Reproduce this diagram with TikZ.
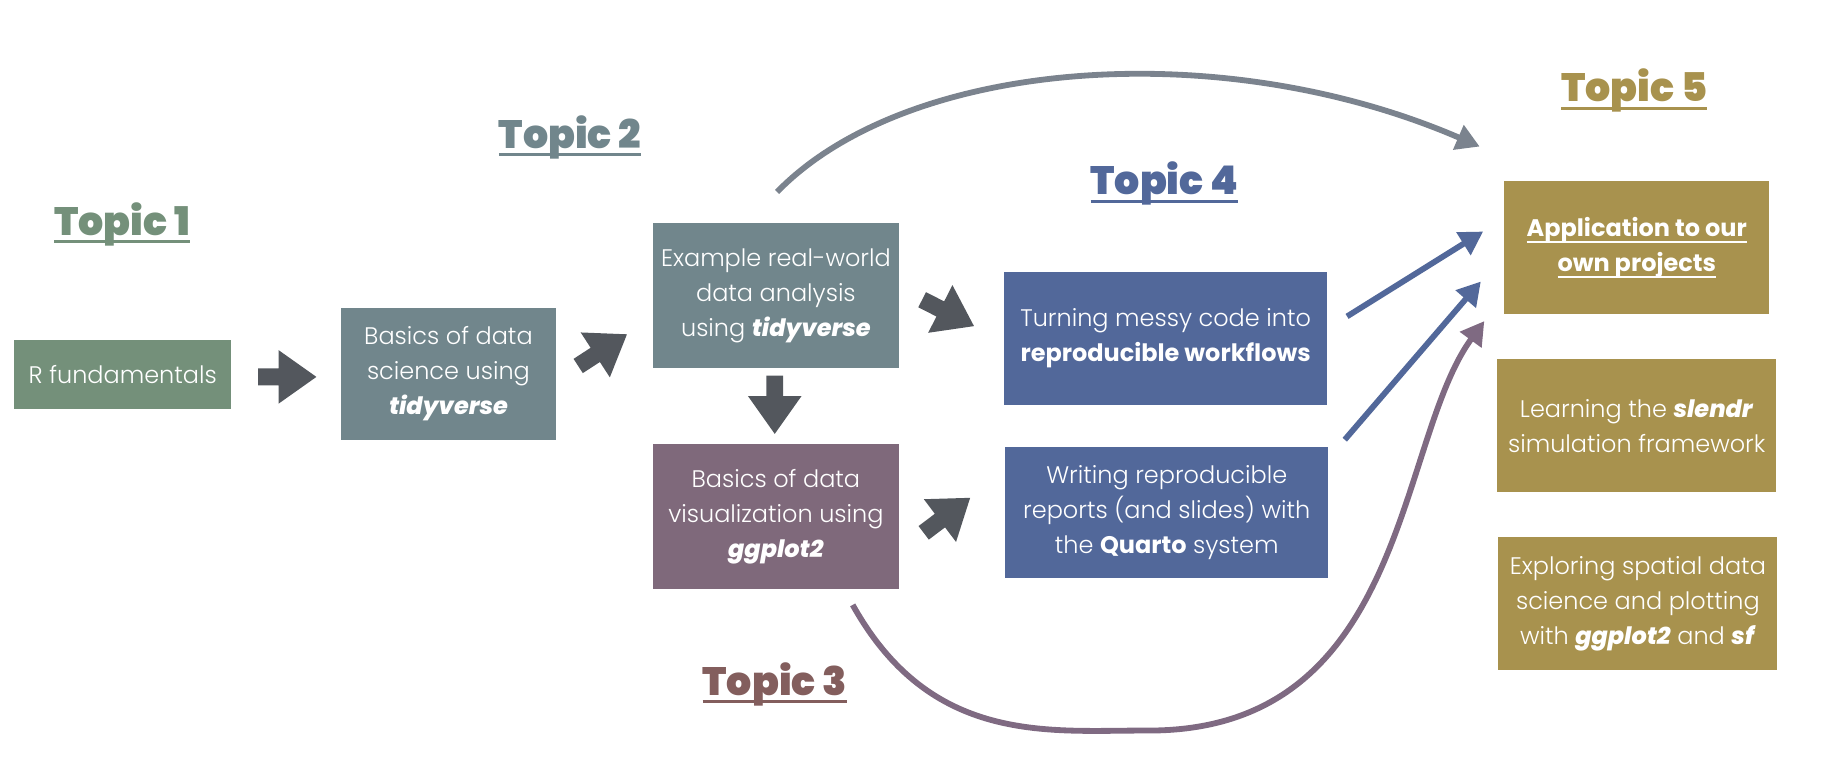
\documentclass[tikz,border=0pt]{standalone}
\usepackage{fontspec}
\setmainfont{Poppins}[UprightFont=* Light, BoldFont=* Bold, ItalicFont=* Light Italic, BoldItalicFont=* ExtraBold Italic]
\newfontfamily\topicfont{Poppins Black}
\usetikzlibrary{arrows.meta}

\definecolor{greenbox}{HTML}{74907A}
\definecolor{slatebox}{HTML}{71868C}
\definecolor{mauvebox}{HTML}{7F697B}
\definecolor{mauvetext}{HTML}{835E5D}
\definecolor{bluebox}{HTML}{52689A}
\definecolor{goldbox}{HTML}{A8924E}
\definecolor{arrowgray}{HTML}{53575D}
\definecolor{curvegray}{HTML}{7B838E}
\definecolor{curvemauve}{HTML}{7F6A82}

\newcommand{\topicline}[1]{\setbox0\hbox{#1}\rlap{\rule[-3.4pt]{\wd0}{1.3pt}}\box0}
\newcommand{\appline}[1]{\setbox0\hbox{#1}\rlap{\rule[-2.6pt]{\wd0}{0.8pt}}\box0}

\begin{document}
\begin{tikzpicture}[x=0.5pt, y=-0.5pt,
  box/.style={rectangle, inner sep=0pt, align=center, text=white, font=\fontsize{10.3}{15}\selectfont},
  topic/.style={inner sep=0pt, font=\topicfont\fontsize{17}{20}\selectfont},
  link/.style={line width=2.5pt, -{Triangle[length=10pt, width=11pt]}},
  bigarrow/.pic={\fill[arrowgray] (-25,-7.3) -- (-7.5,-7.3) -- (-7.5,-23) -- (25,0) -- (-7.5,23) -- (-7.5,7.3) -- (-25,7.3) -- cycle;}]
\useasboundingbox (0,0) rectangle (1568,652);

\node (t1) at (105,193) [topic, text=greenbox] {\topicline{Topic 1}};
\node (t2) at (490,118) [topic, text=slatebox] {\topicline{Topic 2}};
\node (t3) at (666,588) [topic, text=mauvetext] {\topicline{Topic 3}};
\node (t4) at (1001,158) [topic, text=bluebox] {\topicline{Topic 4}};
\node (t5) at (1405,78) [topic, text=goldbox] {\topicline{Topic 5}};

\node (rf) at (105.5,322) [box, fill=greenbox, minimum width=93.5pt, minimum height=30pt] {R fundamentals};
\node (ds) at (385.5,321.5) [box, fill=slatebox, minimum width=92.5pt, minimum height=56.5pt] {Basics of data\\science using\\\textbf{\textit{tidyverse}}};
\node (ex) at (667,254) [box, fill=slatebox, minimum width=106pt, minimum height=62pt] {Example real-world\\data analysis\\using \textbf{\textit{tidyverse}}};
\node (vis) at (667,444) [box, fill=mauvebox, minimum width=106pt, minimum height=62pt] {Basics of data\\visualization using\\\textbf{\textit{ggplot2}}};
\node (wf) at (1002,291) [box, fill=bluebox, minimum width=139pt, minimum height=57pt] {Turning messy code into\\\textbf{reproducible workflows}};
\node (qu) at (1003,440.5) [box, fill=bluebox, minimum width=139pt, minimum height=56.5pt] {Writing reproducible\\reports (and slides) with\\the \textbf{Quarto} system};
\node (app) at (1407,213) [box, fill=goldbox, minimum width=114pt, minimum height=57pt] {\textbf{\appline{Application to our}}\\\textbf{\appline{own projects}}};
\node (sl) at (1407,366) [box, fill=goldbox, minimum width=120pt, minimum height=57pt] {Learning the \textbf{\textit{slendr}}\\simulation framework};
\node (sp) at (1408,519) [box, fill=goldbox, minimum width=120pt, minimum height=57pt] {Exploring spatial data\\science and plotting\\with \textbf{\textit{ggplot2}} and \textbf{\textit{sf}}};

\pic (a12) at (247,324) {bigarrow};
\pic (a23) at (518,301) [rotate=33] {bigarrow};
\pic (a34) at (666,348) [rotate=-90] {bigarrow};
\pic (a35) at (815,269) [rotate=-27] {bigarrow};
\pic (a46) at (814,443) [rotate=37] {bigarrow};

\coordinate (exout) at (668,165);
\coordinate (visout) at (733,520);
\coordinate (wfout) at (1158,272);
\coordinate (quout) at (1156,378);
\coordinate (appin1) at (1272,126);
\coordinate (appin2) at (1275,199);
\coordinate (appin3) at (1273,242);
\coordinate (appin4) at (1276,276);

\draw[link, curvegray] (exout) .. controls (780,50) and (1050,30) .. (appin1);
\draw[link, bluebox] (wfout) -- (appin2);
\draw[link, bluebox] (quout) -- (appin3);
\draw[link, curvemauve] (visout) .. controls (800,640) and (900,628) .. (985,628) .. controls (1210,630) and (1200,380) .. (appin4);
\end{tikzpicture}
\end{document}
